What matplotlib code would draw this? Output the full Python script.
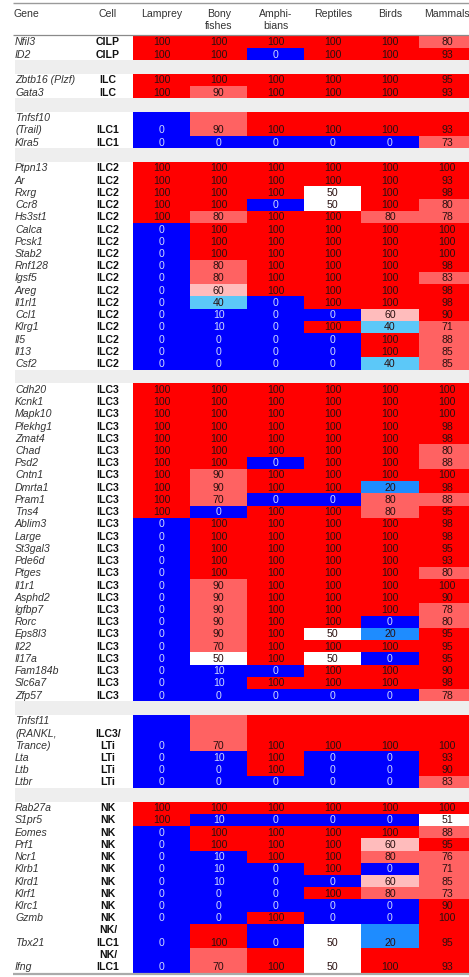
import matplotlib
matplotlib.use('Agg')
import matplotlib.pyplot as plt
from matplotlib.patches import Rectangle

species = ['Lamprey', 'Bony\nfishes', 'Amphi-\nbians', 'Reptiles', 'Birds', 'Mammals']

genes = ['Nfil3', 'ID2',
         'Zbtb16 (Plzf)', 'Gata3',
         'Tnfsf10\n(Trail)', 'Klra5',
         'Ptpn13', 'Ar', 'Rxrg', 'Ccr8', 'Hs3st1', 'Calca', 'Pcsk1', 'Stab2', 'Rnf128',
         'Igsf5', 'Areg', 'Il1rl1', 'Ccl1', 'Klrg1', 'Il5', 'Il13', 'Csf2',
         'Cdh20', 'Kcnk1', 'Mapk10', 'Plekhg1', 'Zmat4', 'Chad', 'Psd2', 'Cntn1', 'Dmrta1',
         'Pram1', 'Tns4', 'Ablim3', 'Large', 'St3gal3', 'Pde6d', 'Ptges', 'Il1r1', 'Asphd2',
         'Igfbp7', 'Rorc', 'Eps8l3', 'Il22', 'Il17a', 'Fam184b', 'Slc6a7', 'Zfp57',
         'Tnfsf11\n(RANKL,\nTrance)', 'Lta', 'Ltb', 'Ltbr',
         'Rab27a', 'S1pr5', 'Eomes', 'Prf1', 'Ncr1', 'Klrb1', 'Klrd1', 'Klrf1', 'Klrc1',
         'Gzmb', 'Tbx21', 'Ifng']

cells = ['CILP', 'CILP',
         'ILC', 'ILC',
         'ILC1', 'ILC1'] + ['ILC2'] * 17 + ['ILC3'] * 26 + \
        ['ILC3/\nLTi', 'LTi', 'LTi', 'LTi'] + ['NK'] * 10 + ['NK/\nILC1', 'NK/\nILC1']

lamprey = [100, 100, 100, 100, 0, 0,
           100, 100, 100, 100, 100, 0, 0, 0, 0, 0, 0, 0, 0, 0, 0, 0, 0,
           100, 100, 100, 100, 100, 100, 100, 100, 100, 100, 100, 0, 0, 0, 0, 0, 0, 0, 0, 0,
           0, 0, 0, 0, 0, 0,
           0, 0, 0, 0,
           100, 100, 0, 0, 0, 0, 0, 0, 0, 0, 0, 0]
bony = [100, 100, 100, 90, 90, 0,
        100, 100, 100, 100, 80, 100, 100, 100, 80, 80, 60, 40, 10, 10, 0, 0, 0,
        100, 100, 100, 100, 100, 100, 100, 90, 90, 70, 0, 100, 100, 100, 100, 100, 90, 90,
        90, 90, 90, 70, 50, 10, 10, 0,
        70, 10, 0, 0,
        100, 10, 100, 100, 10, 10, 10, 0, 0, 0, 100, 70]
amphibians = [100, 0, 100, 100, 100, 0,
              100, 100, 100, 0, 100, 100, 100, 100, 100, 100, 100, 0, 0, 0, 0, 0, 0,
              100, 100, 100, 100, 100, 100, 0, 100, 100, 0, 100, 100, 100, 100, 100, 100, 100,
              100, 100, 100, 100, 100, 100, 0, 100, 0,
              100, 100, 100, 0,
              100, 0, 100, 100, 100, 0, 0, 0, 0, 100, 0, 100]
reptiles = [100, 100, 100, 100, 100, 0,
            100, 100, 50, 50, 100, 100, 100, 100, 100, 100, 100, 100, 0, 100, 0, 0, 0,
            100, 100, 100, 100, 100, 100, 100, 100, 100, 0, 100, 100, 100, 100, 100, 100, 100,
            100, 100, 100, 50, 100, 50, 100, 100, 0,
            100, 0, 0, 0,
            100, 0, 100, 100, 100, 100, 0, 100, 0, 0, 50, 50]
birds = [100, 100, 100, 100, 100, 0,
         100, 100, 100, 100, 80, 100, 100, 100, 100, 100, 100, 100, 60, 40, 100, 100, 40,
         100, 100, 100, 100, 100, 100, 100, 100, 20, 80, 80, 100, 100, 100, 100, 100, 100,
         100, 100, 0, 20, 100, 0, 100, 100, 0,
         100, 0, 0, 0,
         100, 0, 100, 60, 80, 0, 60, 80, 0, 0, 20, 100]
mammals = [80, 93, 95, 93, 93, 73,
           100, 93, 98, 80, 78, 100, 100, 100, 98, 83, 98, 98, 90, 71, 88, 85, 85,
           100, 100, 100, 98, 98, 80, 88, 100, 98, 88, 95, 98, 98, 95, 93, 80, 100, 90,
           78, 80, 95, 95, 95, 90, 98, 78,
           100, 93, 90, 83,
           100, 51, 88, 95, 76, 71, 85, 73, 90, 100, 95, 93]

group_sizes = [2, 2, 2, 17, 26, 4, 12]

# ---------------- styling ----------------
RED = '#ff0000'
SALMON = '#ff6262'
PINK = '#ffbcbc'
WHITE = '#ffffff'
LBLUE = '#5cc8f8'
MBLUE = '#1e8cff'
BLUE = '#0000ff'


def cell_color(v, is_mammal):
    if v >= 100 or (is_mammal and v >= 90):
        return RED
    if v >= 70:
        return SALMON
    if v >= 60:
        return PINK
    if v >= 50:
        return WHITE
    if v >= 40:
        return LBLUE
    if v >= 20:
        return MBLUE
    return BLUE


plt.rcParams['font.family'] = ['Liberation Sans', 'DejaVu Sans']
FS = 7.55
TXT = '#333333'

W, H = 469, 977
fig = plt.figure(figsize=(W / 100, H / 100), dpi=100)
ax = fig.add_axes([0, 0, 1, 1])
ax.set_xlim(0, W)
ax.set_ylim(H, 0)
ax.axis('off')

row_h = 12.23
gap = 13.5
y_top = 35.7
col_x0 = 133.0
col_w = 57.1
gene_x = 15
cell_x = 108

# header
ax.plot([13, W], [2.7, 2.7], color='#9a9a9a', lw=1.0, solid_capstyle='butt')
ax.plot([13, W], [35.0, 35.0], color='#8a8a8a', lw=0.9, solid_capstyle='butt')
ax.text(13, 14, 'Gene', fontsize=FS, color=TXT, ha='left', va='center')
ax.text(cell_x, 14, 'Cell', fontsize=FS, color=TXT, ha='center', va='center')
for j, sp in enumerate(species):
    cx = col_x0 + (j + 0.5) * col_w
    for k, line in enumerate(sp.split('\n')):
        ax.text(cx, 14 + k * 12.2, line, fontsize=FS, color=TXT, ha='center', va='center')

columns = [lamprey, bony, amphibians, reptiles, birds, mammals]

y = y_top
idx = 0
for g, n in enumerate(group_sizes):
    if g > 0:
        ax.add_patch(Rectangle((15, y), W - 15, gap, facecolor='#eeeeee', edgecolor='none'))
        y += gap
    for r in range(n):
        gene = genes[idx]
        cell = cells[idx]
        nl = max(gene.count('\n'), cell.count('\n')) + 1
        hgt = nl * row_h
        for j, col in enumerate(columns):
            v = col[idx]
            c = cell_color(v, j == 5)
            ax.add_patch(Rectangle((col_x0 + j * col_w, y), col_w + 0.3, hgt + 0.3,
                                   facecolor=c, edgecolor='none'))
            tc = '#cdd9ff' if c == BLUE else '#2a1010'
            ax.text(col_x0 + (j + 0.5) * col_w, y + hgt - row_h / 2 + 0.5, str(v),
                    fontsize=FS, color=tc, ha='center', va='center')
        glines = gene.split('\n')
        for k, line in enumerate(glines):
            yy = y + hgt - (len(glines) - k - 0.5) * row_h + 0.5
            ax.text(gene_x, yy, line, fontsize=FS, color=TXT, style='italic',
                    ha='left', va='center')
        clines = cell.split('\n')
        for k, line in enumerate(clines):
            yy = y + hgt - (len(clines) - k - 0.5) * row_h + 0.5
            ax.text(cell_x, yy, line, fontsize=FS, color='#111111', weight='bold',
                    ha='center', va='center')
        y += hgt
        idx += 1

ax.plot([13, W], [y + 1.0, y + 1.0], color='#aaaaaa', lw=1.6, solid_capstyle='butt')

fig.savefig('out.png', dpi=100)
